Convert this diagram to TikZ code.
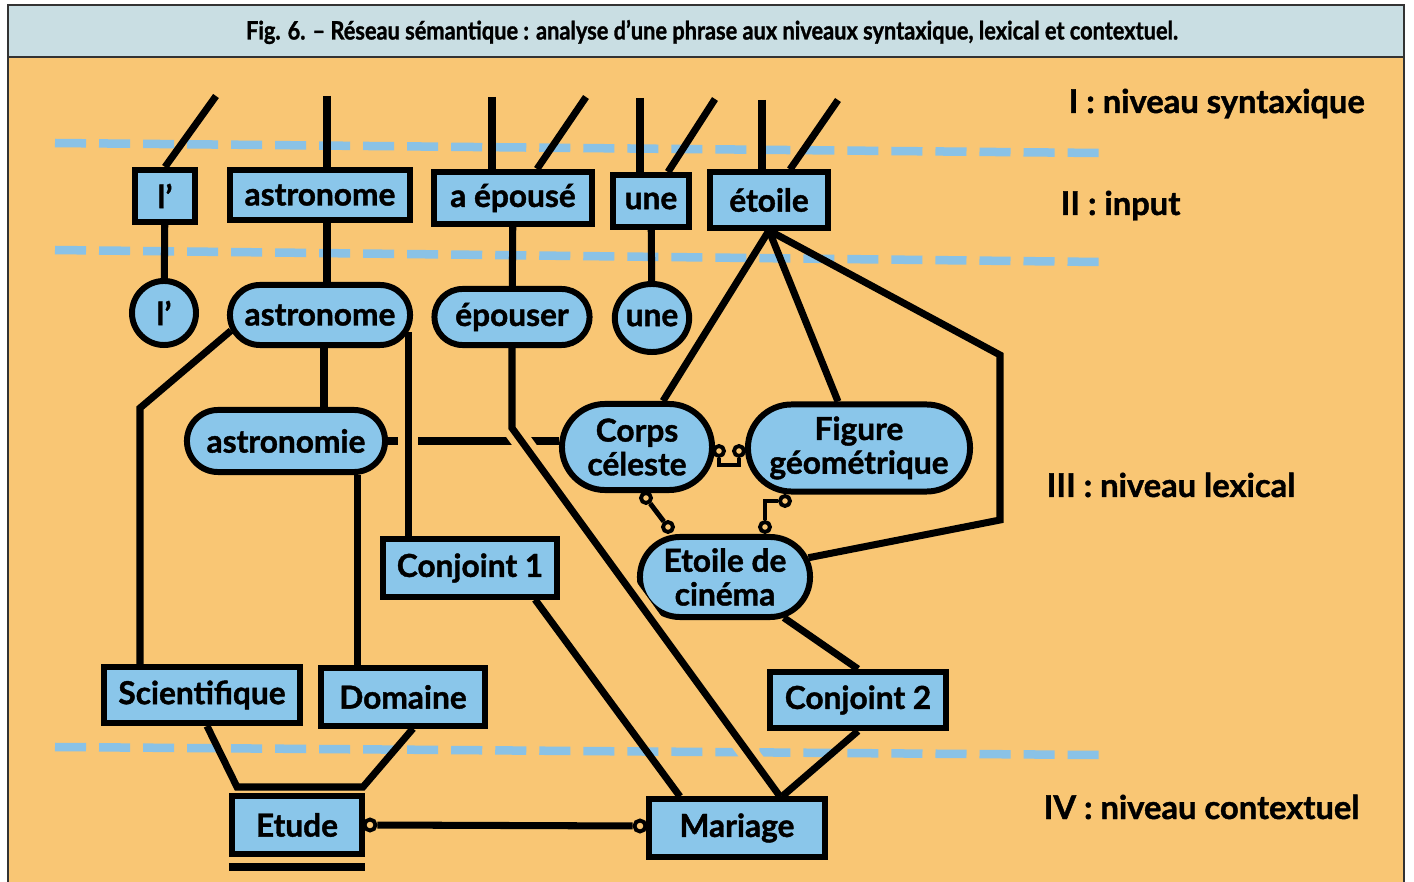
\documentclass[tikz,border=0pt]{standalone}
\usepackage{fontspec}
\setmainfont{Lato}[BoldFeatures={FakeBold=1.3}]
\newfontfamily\titlefont{Lato}[FakeStretch=0.86,BoldFeatures={FakeBold=1.2}]
\usetikzlibrary{positioning,shapes.geometric,shapes.misc}
\definecolor{paper}{RGB}{249,198,116}
\definecolor{titlebar}{RGB}{201,222,227}
\definecolor{nodeblue}{RGB}{138,198,234}
\definecolor{dashblue}{RGB}{138,194,230}

\tikzset{
  box/.style={draw,line width=1.7pt,fill=nodeblue,inner sep=0pt,align=center,
    font=\bfseries\fontsize{9}{9.6}\selectfont},
  pill/.style={box,rounded rectangle},
  link/.style={line width=2pt},
  thinlink/.style={line width=1.4pt},
  ring/.style={circle,draw,line width=1.1pt,fill=paper,inner sep=0pt,minimum size=0.1cm},
  bridge/.style={preaction={draw,paper,line width=0.2cm,shorten <=0.3cm,shorten >=0.3cm}},
  sepline/.style={dashblue,line width=0.085cm,dash pattern=on 0.31cm off 0.13cm},
  level/.style={anchor=base west,inner sep=0pt,font=\bfseries\fontsize{9.3}{10}\selectfont},
  frame/.style={line width=0.6pt,black!80}
}

\begin{document}
\begin{tikzpicture}[x=0.01cm,y=-0.01cm]
    \useasboundingbox (0,0) rectangle (1414,882);
    % frame and title
    \fill[white] (0,0) rectangle (1414,882);
    \fill[titlebar] (8,5) rectangle (1404,57);
    \fill[paper] (8,57) rectangle (1404,882);
    \draw[frame] (8,882) -- (8,5) -- (1404,5) -- (1404,882);
    \draw[frame] (8,57) -- (1404,57);
    \node[font=\titlefont\bfseries\fontsize{7.2}{8}\selectfont] (title) at (712,32)
        {Fig. 6. – Réseau sémantique : analyse d’une phrase aux niveaux syntaxique, lexical et contextuel.};

    % level separators
    \draw[sepline] (55,143) -- (1100,153);
    \draw[sepline] (55,250) -- (1100,262);
    \draw[sepline] (55,747) -- (1100,755);

    % level names
    \node[level] (lv1) at (1068,113) {I : niveau syntaxique};
    \node[level] (lv2) at (1060,215) {II : input};
    \node[level] (lv3) at (1046,497) {III : niveau lexical};
    \node[level] (lv4) at (1043,819) {IV : niveau contextuel};

    % input
    \node[box,minimum width=0.60cm,minimum height=0.52cm] (lp) at (165,196) {l’};
    \node[box,minimum width=1.80cm,minimum height=0.50cm] (astr) at (320,195) {astronome};
    \node[box,minimum width=1.57cm,minimum height=0.52cm] (epo) at (513,198) {a épousé};
    \node[box,minimum width=0.75cm,minimum height=0.52cm] (une) at (651,201) {une};
    \node[box,minimum width=1.18cm,minimum height=0.55cm] (eto) at (769,200) {étoile};

    % lexical level
    \node[box,circle,minimum size=0.64cm] (lpc) at (164,313) {l’};
    \node[pill,minimum width=1.80cm,minimum height=0.60cm] (astrl) at (320,315) {astronome};
    \node[pill,minimum width=1.55cm,minimum height=0.56cm] (epol) at (512,317) {épouser};
    \node[box,ellipse,minimum width=0.74cm,minimum height=0.68cm] (unel) at (652,318) {une};
    \node[pill,minimum width=1.98cm,minimum height=0.62cm] (astrm) at (286,441) {astronomie};
    \node[pill,minimum width=1.50cm,minimum height=0.86cm] (corps) at (637,447) {Corps\\céleste};
    \node[pill,minimum width=2.22cm,minimum height=0.87cm] (figure) at (859,448) {Figure\\géométrique};
    \node[pill,minimum width=1.70cm,minimum height=0.80cm] (cinema) at (725,577) {Etoile de\\cinéma};
    \node[box,minimum width=1.74cm,minimum height=0.57cm] (conj1) at (470,568) {Conjoint 1};
    \node[box,minimum width=1.96cm,minimum height=0.56cm] (scien) at (202,695) {Scientifique};
    \node[box,minimum width=1.63cm,minimum height=0.57cm] (domaine) at (403,697) {Domaine};
    \node[box,minimum width=1.75cm,minimum height=0.56cm] (conj2) at (858,700) {Conjoint 2};

    % contextual level
    \node[box,minimum width=1.30cm,minimum height=0.58cm] (etude) at (297,825) {Etude};
    \node[box,minimum width=1.76cm,minimum height=0.57cm] (mariage) at (737,828) {Mariage};

    % small rings
    \node[ring] (r1) at (719,451) {};
    \node[ring] (r2) at (739,451) {};
    \node[ring] (r3) at (646,498) {};
    \node[ring] (r4) at (668,527) {};
    \node[ring] (r5) at (785,501) {};
    \node[ring] (r6) at (765,527) {};
    \node[ring,minimum size=0.11cm] (r7) at (370,825) {};
    \node[ring,minimum size=0.11cm] (r8) at (640,826) {};

    % syntactic level
    \coordinate (s1) at (216,96);
    \coordinate (s2) at (327,96);
    \coordinate (s3) at (492,97);
    \coordinate (s4) at (586,97);
    \coordinate (s5) at (640,98);
    \coordinate (s6) at (715,99);
    \coordinate (s7) at (762,100);
    \coordinate (s8) at (838,100);
    \draw[link] (s1) -- (lp.north);
    \draw[link] (s2) -- (s2 |- astr.north);
    \draw[link] (s3) -- (s3 |- epo.north);
    \draw[link] (s4) -- ([xshift=0.24cm]epo.north);
    \draw[link] (s5) -- (s5 |- une.north);
    \draw[link] (s6) -- ([xshift=0.17cm]une.north);
    \draw[link] (s7) -- (s7 |- eto.north);
    \draw[link] (s8) -- ([xshift=0.21cm]eto.north);

    % input -> lexical
    \draw[link] (lp) -- (lpc);
    \draw[link] ([xshift=0.07cm]astr.south) -- ([xshift=0.07cm]astr.south |- astrl.north);
    \draw[link] (epo) -- (epol);
    \draw[link] (une) -- (unel);

    % lexical links
    \coordinate (k1) at (1000,355);
    \coordinate (k2) at (1000,520);
    \coordinate (k3) at (140,408);
    \coordinate (k4) at (512,428);
    \draw[link] (eto.south) -- ([xshift=0.26cm]corps.north);
    \draw[link] (eto.south) -- ([xshift=-0.21cm]figure.north);
    \draw[link] (eto.south) -- (k1) -- (k2) -- (cinema.13);
    \draw[link] (astrl.190) -- (k3) -- (k3 |- scien.north);
    \draw[link] ([xshift=0.04cm]astrl.south) -- ([xshift=0.04cm]astrl.south |- astrm.north);
    \draw[link] ([xshift=0.71cm]astrm.south) -- ([xshift=0.71cm]astrm.south |- domaine.north);
    \draw[link] (astrm.east) -- (astrm.east -| corps.west);
    \draw[link,bridge] (astrl.-11) -- (astrl.-11 |- conj1.north);
    \draw[link,bridge] (epol.south) -- (k4) -- ([xshift=0.43cm]mariage.north);
    \draw[link] ([xshift=0.65cm]conj1.south) -- ([xshift=-0.57cm]mariage.north);
    \draw[link] (cinema) -- (conj2.north);
    \draw[link] (conj2.south) -- ([xshift=0.45cm]mariage.north);
    \draw[thinlink] (r1) -- ++(0,14) -| (r2);
    \draw[thinlink] (r3) -- (r4);
    \draw[thinlink] (r5) -| (r6);

    % contextual links
    \coordinate (e1) at (237,787);
    \coordinate (e2) at (363,787);
    \draw[link] ([xshift=0.05cm]scien.south) -- (e1) -- (e2) -- ([xshift=0.1cm]domaine.south);
    \draw[link] ([yshift=-0.1cm]etude.south west) -- ([yshift=-0.1cm]etude.south east);
    \draw[link] (r7) -- (r8);
\end{tikzpicture}
\end{document}
